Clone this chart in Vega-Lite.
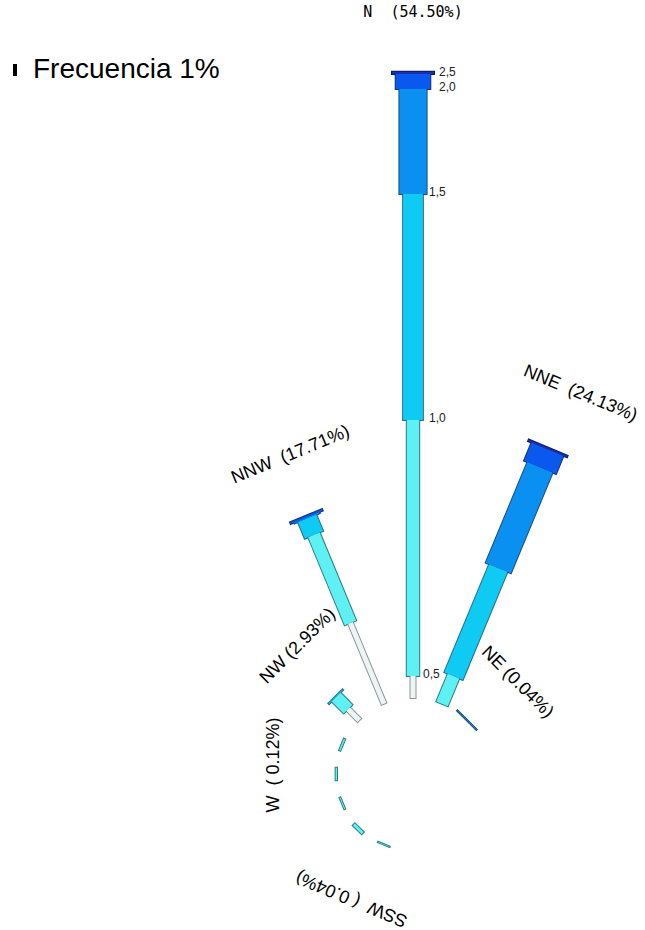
{
  "$schema": "https://vega.github.io/schema/vega-lite/v6.json",
  "width": 464,
  "height": 312,
  "autosize": {"type": "none"},
  "padding": {"left": 181, "top": 618, "right": 0, "bottom": 0},
  "background": "white",
  "config": {"view": {"stroke": null}},
  "datasets": {
    "bars": [
      {"dir": "N", "deg": 0, "b": 1, "v": "0,5", "freq": 1.91},
      {"dir": "N", "deg": 0, "b": 2, "v": "1,0", "freq": 22.28},
      {"dir": "N", "deg": 0, "b": 3, "v": "1,5", "freq": 19.67},
      {"dir": "N", "deg": 0, "b": 4, "v": "2,0", "freq": 9.14},
      {"dir": "N", "deg": 0, "b": 5, "v": "2,5", "freq": 1.31},
      {"dir": "N", "deg": 0, "b": 6, "v": ">2,5", "freq": 0.19},
      {"dir": "NNE", "deg": 22.5, "b": 2, "v": "1,0", "freq": 2.61},
      {"dir": "NNE", "deg": 22.5, "b": 3, "v": "1,5", "freq": 10.18},
      {"dir": "NNE", "deg": 22.5, "b": 4, "v": "2,0", "freq": 9.49},
      {"dir": "NNE", "deg": 22.5, "b": 5, "v": "2,5", "freq": 1.70},
      {"dir": "NNE", "deg": 22.5, "b": 6, "v": ">2,5", "freq": 0.15},
      {"dir": "NE", "deg": 45, "b": 4, "v": "2,0", "freq": 0.04},
      {"dir": "SSW", "deg": 202.5, "b": 2, "v": "1,0", "freq": 0.04},
      {"dir": "SW", "deg": 225, "b": 2, "v": "1,0", "freq": 0.25},
      {"dir": "WSW", "deg": 247.5, "b": 2, "v": "1,0", "freq": 0.08},
      {"dir": "W", "deg": 270, "b": 2, "v": "1,0", "freq": 0.12},
      {"dir": "WNW", "deg": 292.5, "b": 2, "v": "1,0", "freq": 0.12},
      {"dir": "NW", "deg": 315, "b": 1, "v": "0,5", "freq": 1.38},
      {"dir": "NW", "deg": 315, "b": 2, "v": "1,0", "freq": 1.47},
      {"dir": "NW", "deg": 315, "b": 3, "v": "1,5", "freq": 0.08},
      {"dir": "NNW", "deg": 337.5, "b": 1, "v": "0,5", "freq": 7.62},
      {"dir": "NNW", "deg": 337.5, "b": 2, "v": "1,0", "freq": 8.30},
      {"dir": "NNW", "deg": 337.5, "b": 3, "v": "1,5", "freq": 1.55},
      {"dir": "NNW", "deg": 337.5, "b": 4, "v": "2,0", "freq": 0.10},
      {"dir": "NNW", "deg": 337.5, "b": 5, "v": "2,5", "freq": 0.14}
    ],
    "labels": [
      {"dir": "N", "deg": 0, "pct": 54.50, "label": "N \u00a0(54.50%)"},
      {"dir": "NNE", "deg": 22.5, "pct": 24.13, "label": "NNE \u00a0(24.13%)"},
      {"dir": "NE", "deg": 45, "pct": 0.04, "label": "NE (0.04%)"},
      {"dir": "SSW", "deg": 202.5, "pct": 0.04, "label": "SSW \u00a0( 0.04%)"},
      {"dir": "W", "deg": 270, "pct": 0.12, "label": "W \u00a0( 0.12%)"},
      {"dir": "NW", "deg": 315, "pct": 2.93, "label": "NW (2.93%)"},
      {"dir": "NNW", "deg": 337.5, "pct": 17.71, "label": "NNW \u00a0(17.71%)"}
    ]
  },
  "resolve": {"scale": {"stroke": "independent", "strokeWidth": "independent"}},
  "layer": [
    {
      "data": {"name": "bars"},
      "transform": [{"stack": "freq", "groupby": ["dir"], "sort": [{"field": "b", "order": "ascending"}], "as": ["lo", "hi"]}],
      "mark": {"type": "arc", "filled": false, "strokeJoin": "bevel", "radiusOffset": 1, "radius2Offset": -1},
      "encoding": {
        "theta": {"field": "deg", "type": "quantitative", "stack": null, "scale": {"domain": [0, 360], "range": [0, 6.283185307179586]}},
        "theta2": {"field": "deg"},
        "radius": {"field": "hi", "type": "quantitative", "scale": {"type": "linear", "domain": [0, 60], "range": [76, 765.4], "zero": false}},
        "radius2": {"field": "lo"},
        "stroke": {"field": "b", "type": "ordinal", "scale": {"domain": [1, 2, 3, 4, 5, 6], "range": ["#8a9898", "#2f7c86", "#2b6f8a", "#1f4d78", "#1c3570", "#0e1a66"]}, "legend": null},
        "strokeWidth": {"field": "b", "type": "quantitative", "scale": {"type": "linear", "domain": [1, 6], "range": [7, 44], "zero": false}, "legend": null}
      }
    },
    {
      "data": {"name": "bars"},
      "transform": [{"stack": "freq", "groupby": ["dir"], "sort": [{"field": "b", "order": "ascending"}], "as": ["lo", "hi"]}],
      "mark": {"type": "arc", "filled": false, "strokeJoin": "bevel"},
      "encoding": {
        "theta": {"field": "deg", "type": "quantitative", "stack": null, "scale": {"domain": [0, 360], "range": [0, 6.283185307179586]}},
        "theta2": {"field": "deg"},
        "radius": {"field": "hi", "type": "quantitative", "scale": {"type": "linear", "domain": [0, 60], "range": [76, 765.4], "zero": false}},
        "radius2": {"field": "lo"},
        "stroke": {"field": "b", "type": "ordinal", "scale": {"domain": [1, 2, 3, 4, 5, 6], "range": ["#eef4f4", "#5ef0f2", "#0fcaf2", "#0a90f0", "#0a58ee", "#1a2fb0"]}, "legend": null},
        "strokeWidth": {"field": "b", "type": "quantitative", "scale": {"type": "linear", "domain": [1, 6], "range": [5, 42], "zero": false}, "legend": null}
      }
    },
    {
      "data": {"name": "bars"},
      "transform": [
        {"stack": "freq", "groupby": ["dir"], "sort": [{"field": "b", "order": "ascending"}], "as": ["lo", "hi"]},
        {"filter": "datum.dir === 'N' && datum.b === 1"}
      ],
      "mark": {"type": "text", "align": "left", "baseline": "middle", "dx": 10, "dy": -2, "font": "Liberation Sans", "fontSize": 12, "color": "#222"},
      "encoding": {
        "theta": {"field": "deg", "type": "quantitative", "stack": null, "scale": {"domain": [0, 360], "range": [0, 6.283185307179586]}},
        "radius": {"field": "hi", "type": "quantitative", "scale": {"type": "linear", "domain": [0, 60], "range": [76, 765.4], "zero": false}},
        "text": {"field": "v"}
      }
    },
    {
      "data": {"name": "bars"},
      "transform": [
        {"stack": "freq", "groupby": ["dir"], "sort": [{"field": "b", "order": "ascending"}], "as": ["lo", "hi"]},
        {"filter": "datum.dir === 'N' && (datum.b === 2 || datum.b === 3)"}
      ],
      "mark": {"type": "text", "align": "left", "baseline": "middle", "dx": 16, "dy": -2, "font": "Liberation Sans", "fontSize": 12, "color": "#222"},
      "encoding": {
        "theta": {"field": "deg", "type": "quantitative", "stack": null, "scale": {"domain": [0, 360], "range": [0, 6.283185307179586]}},
        "radius": {"field": "hi", "type": "quantitative", "scale": {"type": "linear", "domain": [0, 60], "range": [76, 765.4], "zero": false}},
        "text": {"field": "v"}
      }
    },
    {
      "data": {"name": "bars"},
      "transform": [
        {"stack": "freq", "groupby": ["dir"], "sort": [{"field": "b", "order": "ascending"}], "as": ["lo", "hi"]},
        {"filter": "datum.dir === 'N' && (datum.b === 4 || datum.b === 5)"}
      ],
      "mark": {"type": "text", "align": "left", "baseline": "middle", "dx": 26, "dy": -2, "font": "Liberation Sans", "fontSize": 12, "color": "#222"},
      "encoding": {
        "theta": {"field": "deg", "type": "quantitative", "stack": null, "scale": {"domain": [0, 360], "range": [0, 6.283185307179586]}},
        "radius": {"field": "hi", "type": "quantitative", "scale": {"type": "linear", "domain": [0, 60], "range": [76, 765.4], "zero": false}},
        "text": {"field": "v"}
      }
    },
    {
      "data": {"name": "labels"},
      "transform": [{"filter": "datum.dir !== 'N'"}],
      "mark": {"type": "text", "align": "center", "baseline": "middle", "radiusOffset": 62, "dx": 9, "font": "Liberation Sans", "fontSize": 18, "color": "black"},
      "encoding": {
        "theta": {"field": "deg", "type": "quantitative", "stack": null, "scale": {"domain": [0, 360], "range": [0, 6.283185307179586]}},
        "radius": {"field": "pct", "type": "quantitative", "scale": {"type": "linear", "domain": [0, 60], "range": [76, 765.4], "zero": false}},
        "angle": {"field": "deg", "type": "quantitative", "scale": {"domain": [0, 360], "range": [0, 360]}},
        "text": {"field": "label"}
      }
    },
    {
      "data": {"name": "labels"},
      "transform": [{"filter": "datum.dir === 'N'"}],
      "mark": {"type": "text", "align": "center", "baseline": "middle", "radiusOffset": 60, "font": "DejaVu Sans Mono", "fontSize": 15, "color": "black"},
      "encoding": {
        "theta": {"field": "deg", "type": "quantitative", "stack": null, "scale": {"domain": [0, 360], "range": [0, 6.283185307179586]}},
        "radius": {"field": "pct", "type": "quantitative", "scale": {"type": "linear", "domain": [0, 60], "range": [76, 765.4], "zero": false}},
        "text": {"field": "label"},
        "opacity": {
          "datum": "Frecuencia 1%",
          "type": "nominal",
          "scale": {"range": [1]},
          "legend": {
            "title": null,
            "orient": "none",
            "legendX": -180,
            "legendY": -562,
            "symbolType": "M-0.33,-1H0.33V1H-0.33Z",
            "symbolSize": 144,
            "symbolFillColor": "white",
            "symbolStrokeColor": "#777777",
            "symbolStrokeWidth": 1,
            "labelFont": "Liberation Sans",
            "labelFontSize": 28,
            "labelColor": "black",
            "labelOffset": 4,
            "labelLimit": 400,
            "encode": {"symbols": {"update": {"fill": {"value": "white"}, "stroke": {"value": "#777777"}, "strokeWidth": {"value": 1}}}}
          }
        }
      }
    }
  ]
}
